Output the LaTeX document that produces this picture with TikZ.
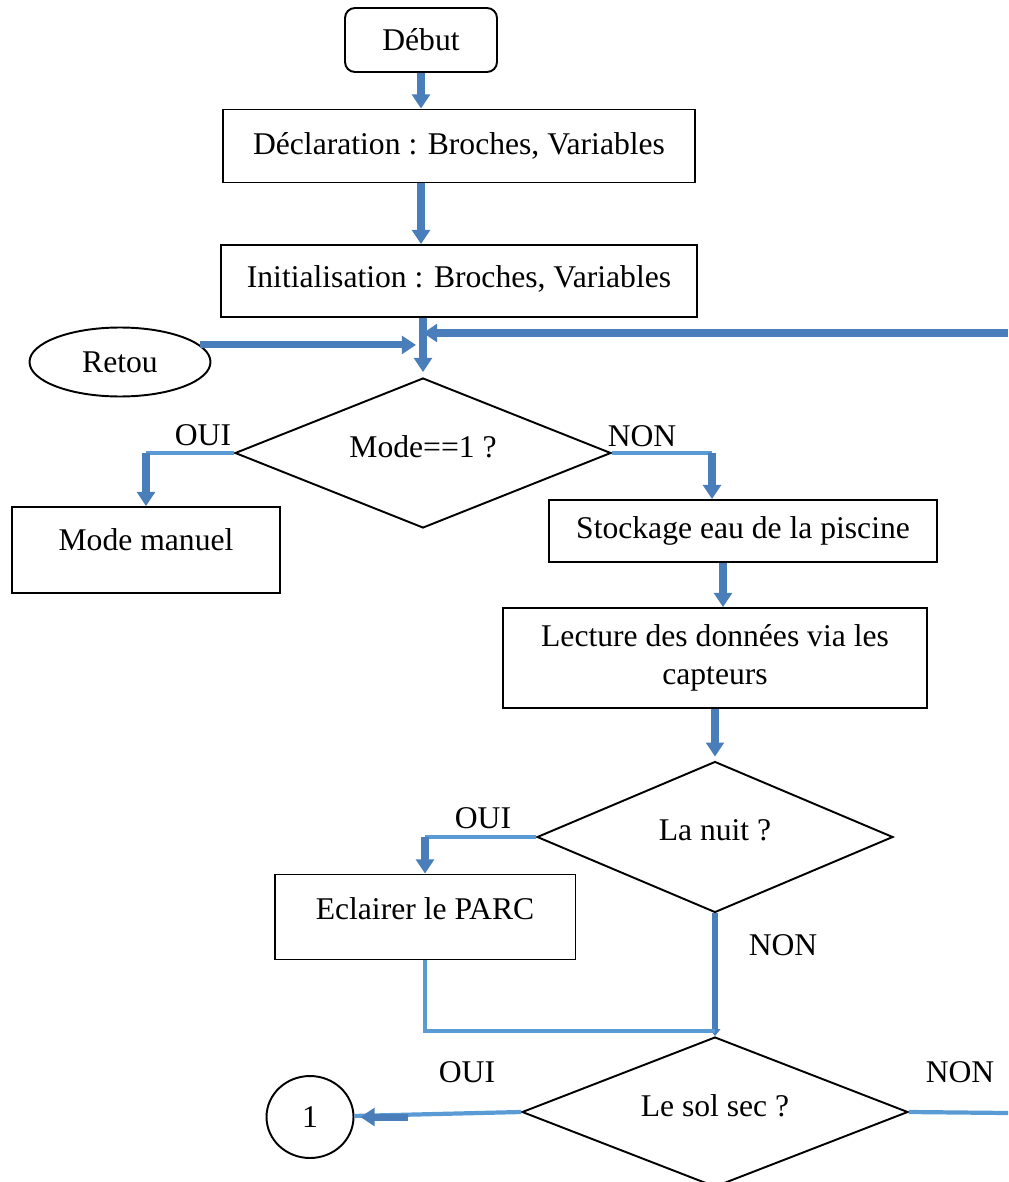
\documentclass[tikz,border=0pt]{standalone}
\usepackage{fontspec}
\setmainfont{Liberation Serif}
\usetikzlibrary{shapes.geometric, arrows.meta, calc}
\definecolor{flowblue}{HTML}{4A7EBB}
\definecolor{linkblue}{HTML}{5B9BD5}

\begin{document}
\begin{tikzpicture}[x=0.02cm, y=-0.02cm, font=\fontsize{18}{22}\selectfont,
    box/.style={draw, line width=1.1pt, inner sep=0pt},
    ask/.style={draw, diamond, aspect=2.5, line width=1.1pt, inner sep=0pt, text depth=0.26cm},
    lifted/.style={text depth=#1},
    flow/.style={draw=flowblue, line width=4pt, -{Triangle[length=8pt, width=10pt]}},
    drop/.style={draw=flowblue, line width=3pt, -{Triangle[length=4pt, width=6pt]}},
    link/.style={draw=linkblue, line width=2.4pt}]
    \useasboundingbox (0,0) rectangle (1008,1182);
    \clip (0,0) rectangle (1008,1182);

    \node[box, rounded corners=0.2cm, minimum width=3.04cm, minimum height=1.28cm] (start) at (421,40) {Début};
    \node[box, minimum width=9.44cm, minimum height=1.46cm] (decl) at (459,146) {Déclaration : Broches, Variables};
    \node[box, lifted=0.18cm, minimum width=9.52cm, minimum height=1.44cm] (init) at (459,281) {Initialisation : Broches, Variables};
    \node[box, ellipse, minimum width=3.62cm, minimum height=1.38cm] (retou) at (120,362) {Retou};
    \node[ask, minimum width=7.52cm, minimum height=3cm] (mode) at (423,453) {Mode==1 ?};
    \node[box, lifted=0.4cm, minimum width=5.36cm, minimum height=1.72cm] (manual) at (146,550) {Mode manuel};
    \node[box, minimum width=7.76cm, minimum height=1.24cm] (store) at (743,531) {Stockage eau de la piscine};
    \node[box, align=center, minimum width=8.48cm, minimum height=2cm] (read) at (715,658)
          {Lecture des données via les\\capteurs};
    \node[ask, minimum width=7.12cm, minimum height=3.02cm] (night) at (715,837) {La nuit ?};
    \node[box, lifted=0.32cm, minimum width=6.02cm, minimum height=1.7cm] (light) at (425,917) {Eclairer le PARC};
    \node[ask, minimum width=7.72cm, minimum height=3cm] (dry) at (715,1112) {Le sol sec ?};
    \node[box, ellipse, minimum width=1.74cm, minimum height=1.64cm] (one) at (310,1117) {1};

    \node (yes1) at (203,435) {OUI};
    \node (no1) at (642,436) {NON};
    \node (yes2) at (483,818) {OUI};
    \node (no2) at (783,945) {NON};
    \node (yes3) at (467,1072) {OUI};
    \node (no3) at (960,1072) {NON};

    \coordinate (back) at (1008,333);
    \coordinate (turn) at (712,453);
    \coordinate (join) at (715,1031);
    \coordinate (off) at (1008,1113);

    \draw[flow] (start) -- (start |- decl.north);
    \draw[flow] (decl.south -| start) -- (init.north -| start);
    \draw[flow, shorten >=0.1cm] (init.south -| mode) -- (mode.north);
    \draw[flow] (back) -- (back -| mode);
    \draw[flow, shorten >=0.14cm] (retou.12) -- (retou.12 -| mode);
    \draw[link] (mode.west) -- (mode.west -| manual);
    \draw[flow] (mode.west -| manual) -- (manual);
    \draw[link] (mode.east) -- (turn);
    \draw[flow] (turn) -- (turn |- store.north);
    \draw[flow] ($(store.south -| read)+(8,0)$) -- ($(read.north)+(8,0)$);
    \draw[flow, shorten >=0.08cm] (read) -- (night);
    \draw[link] (night.west) -- (night.west -| light);
    \draw[flow] (night.west -| light) -- (light);
    \draw[drop] (night) -- (dry);
    \draw[link] (light) |- (join);
    \draw[link] (dry.west) -- (one);
    \draw[flow, shorten >=0.12cm] ($(one.east)+(54,0)$) -- (one.east);
    \draw[link] (dry.east) -- (off);
\end{tikzpicture}
\end{document}
